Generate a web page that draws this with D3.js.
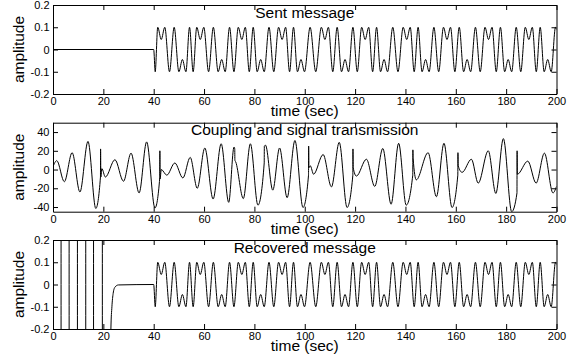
<!DOCTYPE html>
<html>
<head>
<meta charset="utf-8">
<script src="https://cdn.jsdelivr.net/npm/d3@7"></script>
<style>
  body { margin: 0; background: #fff; }
  svg text { font-family: "Liberation Sans", Arial, Helvetica, sans-serif; fill: #000; }
</style>
</head>
<body>
<div id="chart"></div>
<script>
// ---- data ----
const timeTicks = [0, 20, 40, 60, 80, 100, 120, 140, 160, 180, 200];
const messageTicks = [-0.2, -0.1, 0, 0.1, 0.2];
const couplingTicks = [-40, -20, 0, 20, 40];
const titles = ['Sent message', 'Coupling and signal transmission', 'Recovered message'];

// sent message: turning points (t, amplitude), zero before t = 40
const messageT = [0, 40, 40.6,
  41.6, 43.0, 44.4, 46.27, 48.13, 50.0, 51.4, 52.8, 54.23, 55.67,
  57.1, 58.5, 59.9, 61.8, 63.7, 65.6, 67.0, 68.4, 70.13, 71.87,
  73.6, 75.0, 76.4, 77.97, 79.53, 81.1, 82.5, 83.9, 85.8, 87.7,
  89.6, 91.0, 92.4, 93.97, 95.53, 97.1, 98.5, 99.9, 102.13, 104.37,
  106.6, 108.0, 109.4, 111.13, 112.87, 114.6, 116.0, 117.4, 119.13, 120.87,
  122.6, 124.0, 125.4, 126.97, 128.53, 130.1, 131.5, 132.9, 134.97, 137.03,
  139.1, 140.5, 141.9, 143.47, 145.03, 146.6, 148.0, 149.4, 151.3, 153.2,
  155.1, 156.5, 157.9, 159.63, 161.37, 163.1, 164.5, 165.9, 167.8, 169.7,
  171.6, 173.0, 174.4, 176.07, 177.73, 179.4, 180.8, 182.2, 184.0, 185.8,
  187.6, 189.0, 190.4, 191.97, 193.53, 195.1, 196.5, 197.9, 199.6, 200];
const messageV = [0, 0, -0.1,
  0.1, 0.045, 0.1, -0.1, 0.1, -0.1, -0.045, -0.1, 0.1, -0.1,
  0.1, 0.045, 0.1, -0.1, 0.1, -0.1, -0.045, -0.1, 0.1, -0.1,
  0.1, 0.045, 0.1, -0.1, 0.1, -0.1, -0.045, -0.1, 0.1, -0.1,
  0.1, 0.045, 0.1, -0.1, 0.1, -0.1, -0.045, -0.1, 0.1, -0.1,
  0.1, 0.045, 0.1, -0.1, 0.1, -0.1, -0.045, -0.1, 0.1, -0.1,
  0.1, 0.045, 0.1, -0.1, 0.1, -0.1, -0.045, -0.1, 0.1, -0.1,
  0.1, 0.045, 0.1, -0.1, 0.1, -0.1, -0.045, -0.1, 0.1, -0.1,
  0.1, 0.045, 0.1, -0.1, 0.1, -0.1, -0.045, -0.1, 0.1, -0.1,
  0.1, 0.045, 0.1, -0.1, 0.1, -0.1, -0.045, -0.1, 0.1, -0.1,
  0.1, 0.045, 0.1, -0.1, 0.1, -0.1, -0.045, -0.1, 0.1, 0.09];

// coupled transmitted signal: turning points and the short spikes
const couplingT = [0, 1.5, 4.5, 7.6, 10.7, 13.9, 17.0,
  18.85, 18.9, 19.0, 19.4, 20.8, 24.6, 28.0, 31.0, 34.2, 37.2, 40.5,
  42.4, 42.45, 42.55, 43.0, 45.2, 48.4, 51.6, 54.5, 57.3, 60.3, 63.6, 66.8, 69.8,
  71.9, 72.2, 72.25, 72.6, 75.6, 78.4, 81.4,
  83.9, 83.95, 84.4, 87.3, 90.0, 93.0, 96.1, 99.3,
  101.5, 101.55, 101.65, 102.2, 103.5, 107.3, 110.6, 113.7, 116.8,
  119.1, 119.15, 119.25, 120.5, 124.5, 127.8, 131.0, 134.3, 137.3, 140.3,
  142.9, 142.95, 143.05, 144.3, 149.0, 152.3, 155.3, 158.5,
  160.8, 160.85, 160.95, 162.5, 166.2, 168.9, 172.9, 175.9, 178.9, 182.2,
  184.3, 184.35, 184.45, 188.6, 191.9, 195.2, 198.6, 200];
const couplingV = [3, 9.5, -13, 18, -24, 30, -41.5,
  -8, 22, -8, 1, -8, 10.5, -12.5, 17.5, -25, 29.5, -41,
  -9, 20, -10, 0, -6, 7, -9, 13, -20, 23, -31.5, 27.5, -35,
  24, 22, 10, 8, -31, 27.5, -38,
  7, 25, 26, -22, 23, -30, 31, -40.5,
  -6, 25, 2, 4, -5, 16, -18.5, 29, -40.5,
  -6, 22, 2, -7, 11, -18, 22.5, -37, 28, -38,
  -6, 21, 12, -11, 18, -29, 28, -40.5,
  -6, 18, 4, -3, 11, -14.5, 20, -25.5, 33, -45,
  -25, 20, -5, 9, -14.5, 17.5, -25, -18];

// recovered message before synchronisation (off-scale swings), then settling
const recoveredT = [0, 3.2, 3.21, 6.4, 6.41, 9.7, 9.71, 13.0, 13.01, 16.1, 16.11, 19.6, 19.61,
  22.9, 23.0, 23.4, 23.9, 24.6, 26.0, 40];
const recoveredV = [-1, -1, 1, 1, -1, -1, 1, 1, -1, -1, 1, 1, -1,
  -1, -0.2, -0.1, -0.04, -0.012, -0.002, 0];

// ---- layout ----
const width = 577;
const height = 357;
const left = 53;
const right = 556.5;
const plotHeight = 89;
const panelTops = [5, 122.7, 240];

const svg = d3.select('#chart')
  .append('svg')
  .attr('width', width)
  .attr('height', height)
  .style('background', '#fff');

const x = d3.scaleLinear().domain([0, 200]).range([left, right]);

const zip = (ts, vs) => ts.map((t, i) => ({ t: t, v: vs[i] }));

const messagePoints = zip(messageT, messageV);
const recoveredPoints = zip(recoveredT, recoveredV)
  .concat(messagePoints.filter(d => d.t > 40));

const panels = [
  { title: titles[0], domain: [-0.2, 0.2], ticks: messageTicks, points: messagePoints },
  { title: titles[1], domain: [-45, 50], ticks: couplingTicks, points: zip(couplingT, couplingV) },
  { title: titles[2], domain: [-0.2, 0.2], ticks: messageTicks, points: recoveredPoints }
];

panels.forEach((p, i) => {
  const top = panelTops[i];
  const bottom = top + plotHeight;
  const y = d3.scaleLinear().domain(p.domain).range([bottom, top]);

  const g = svg.append('g');

  // clip the trace to the axes box
  svg.append('clipPath')
    .attr('id', 'clip' + i)
    .append('rect')
    .attr('x', left)
    .attr('y', top)
    .attr('width', right - left)
    .attr('height', plotHeight);

  const line = d3.line()
    .x(d => x(d.t))
    .y(d => y(d.v))
    .curve(d3.curveMonotoneX);

  g.append('path')
    .datum(p.points)
    .attr('clip-path', 'url(#clip' + i + ')')
    .attr('fill', 'none')
    .attr('stroke', '#000')
    .attr('stroke-width', 1)
    .attr('d', line);

  // MATLAB style box: ticks pointing inward on all four sides
  const styleAxis = sel => {
    sel.attr('font-size', 11)
      .attr('font-family', '"Liberation Sans", Arial, sans-serif');
    sel.selectAll('path.domain').attr('stroke', '#000').attr('stroke-width', 1);
    sel.selectAll('.tick line').attr('stroke', '#000');
  };

  g.append('g')
    .attr('transform', `translate(0, ${bottom})`)
    .call(d3.axisBottom(x).tickValues(timeTicks).tickSizeInner(-5).tickSizeOuter(0).tickPadding(3.2))
    .call(styleAxis);

  g.append('g')
    .attr('transform', `translate(0, ${top})`)
    .call(d3.axisTop(x).tickValues(timeTicks).tickSizeInner(-5).tickSizeOuter(0).tickFormat(''))
    .call(styleAxis);

  g.append('g')
    .attr('transform', `translate(${left}, 0)`)
    .call(d3.axisLeft(y).tickValues(p.ticks).tickSizeInner(-5).tickSizeOuter(0).tickPadding(3.5)
      .tickFormat(d => String(d)))
    .call(styleAxis);

  g.append('g')
    .attr('transform', `translate(${right}, 0)`)
    .call(d3.axisRight(y).tickValues(p.ticks).tickSizeInner(-5).tickSizeOuter(0).tickFormat(''))
    .call(styleAxis);

  // title inside the top of the box
  g.append('text')
    .attr('x', (left + right) / 2)
    .attr('y', top + 12.5)
    .attr('text-anchor', 'middle')
    .style('font-size', '15.5px')
    .text(p.title);

  // x label tucked just under the tick labels, as in the original
  g.append('text')
    .attr('x', (left + right) / 2)
    .attr('y', bottom + 22)
    .attr('text-anchor', 'middle')
    .style('font-size', '15.5px')
    .text('time (sec)');

  // y label
  g.append('text')
    .attr('transform', `translate(24, ${(top + bottom) / 2}) rotate(-90)`)
    .attr('text-anchor', 'middle')
    .style('font-size', '15.5px')
    .text('amplitude');
});
</script>
</body>
</html>
